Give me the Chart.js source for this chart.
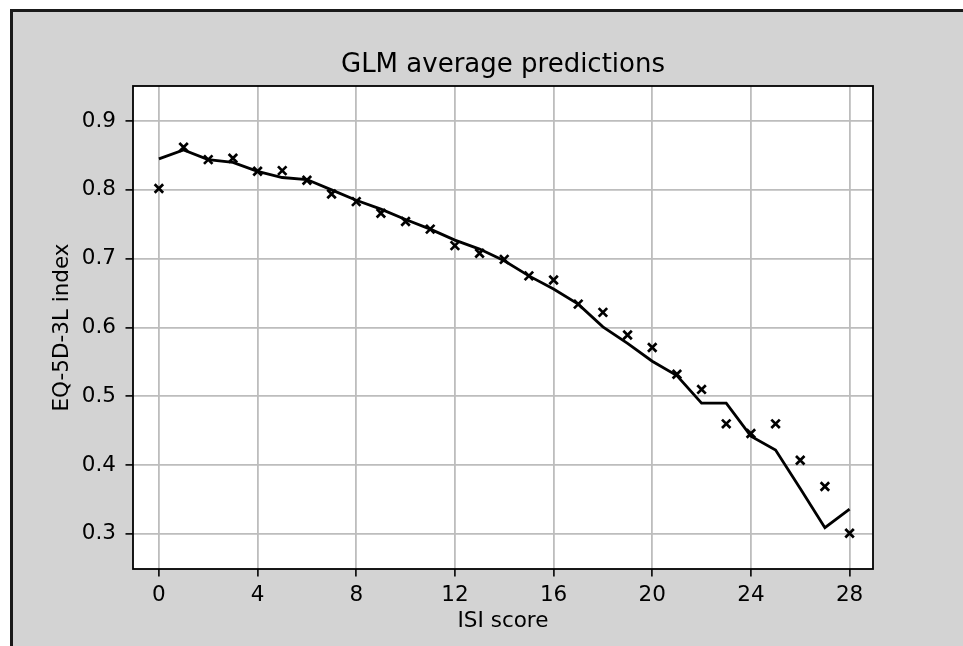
<!DOCTYPE html>
<html>
<head>
<meta charset="utf-8">
<title>GLM average predictions</title>
<script src="https://cdn.jsdelivr.net/npm/chart.js@4/dist/chart.umd.min.js"></script>
<style>
  html, body { margin: 0; padding: 0; background: #ffffff; }
  canvas { display: block; }
</style>
</head>
<body>
<canvas id="chart" width="963" height="646"></canvas>
<script>
// ISI score categories (x values)
const isiScores = [0, 1, 2, 3, 4, 5, 6, 7, 8, 9, 10, 11, 12, 13, 14, 15, 16, 17, 18, 19, 20, 21, 22, 23, 24, 25, 26, 27, 28];

// Observed mean EQ-5D-3L index per ISI score (x markers)
const observedIndex = [0.802, 0.862, 0.844, 0.846, 0.827, 0.828, 0.814, 0.794, 0.783, 0.766,
                       0.754, 0.743, 0.719, 0.708, 0.699, 0.675, 0.669, 0.634, 0.622, 0.589,
                       0.571, 0.532, 0.510, 0.460, 0.446, 0.460, 0.407, 0.369, 0.301];

// GLM average predicted EQ-5D-3L index per ISI score (line)
const predictedIndex = [0.845, 0.858, 0.844, 0.840, 0.827, 0.818, 0.815, 0.800, 0.785, 0.772,
                        0.757, 0.743, 0.727, 0.714, 0.697, 0.675, 0.656, 0.634, 0.601, 0.577,
                        0.551, 0.530, 0.490, 0.490, 0.442, 0.422, 0.366, 0.309, 0.336];

// Tick labels
const xTicks = [0, 4, 8, 12, 16, 20, 24, 28];
const yTicks = [0.3, 0.4, 0.5, 0.6, 0.7, 0.8, 0.9];

const FONT = "'DejaVu Sans', 'Liberation Sans', sans-serif";

// Gray figure panel, black frame edges, and white plotting area
const panelPlugin = {
  id: 'panel',
  afterLayout(chart) {
    // centre the title over the plotting area
    const t = chart.titleBlock;
    if (t) {
      t.left = chart.chartArea.left;
      t.right = chart.chartArea.right;
      t.width = t.right - t.left;
    }
  },
  beforeDraw(chart) {
    const ctx = chart.ctx;
    const { width, height, chartArea: a } = chart;
    ctx.save();
    ctx.fillStyle = '#ffffff';
    ctx.fillRect(0, 0, width, height);
    ctx.fillStyle = '#d3d3d3';
    ctx.fillRect(10, 9, width - 10, height - 9);
    ctx.strokeStyle = '#1a1a1a';
    ctx.lineWidth = 3;
    ctx.beginPath();
    ctx.moveTo(11.5, height);
    ctx.lineTo(11.5, 10.5);
    ctx.lineTo(width, 10.5);
    ctx.stroke();
    ctx.fillStyle = '#ffffff';
    ctx.fillRect(a.left, a.top, a.right - a.left, a.bottom - a.top);
    ctx.restore();
  },
  afterDraw(chart) {
    const ctx = chart.ctx;
    const a = chart.chartArea;
    ctx.save();
    ctx.strokeStyle = '#000000';
    ctx.lineWidth = 1.8;
    ctx.strokeRect(a.left, a.top, a.right - a.left, a.bottom - a.top);
    ctx.restore();
  }
};

const gridStyle = {
  color: '#bdbdbd',
  lineWidth: 1.8,
  drawTicks: true,
  tickLength: 7.5,
  tickColor: '#000000',
  tickWidth: 1.6
};

new Chart(document.getElementById('chart'), {
  type: 'scatter',
  data: {
    datasets: [
      {
        label: 'Observed',
        data: isiScores.map((x, i) => ({ x: x, y: observedIndex[i] })),
        pointStyle: 'crossRot',
        pointRadius: 6,
        pointHoverRadius: 6,
        pointBorderWidth: 2.7,
        borderColor: '#000000',
        backgroundColor: '#000000',
        showLine: false
      },
      {
        type: 'line',
        label: 'GLM prediction',
        data: isiScores.map((x, i) => ({ x: x, y: predictedIndex[i] })),
        borderColor: '#000000',
        borderWidth: 2.8,
        pointRadius: 0,
        tension: 0,
        fill: false
      }
    ]
  },
  options: {
    responsive: false,
    animation: false,
    devicePixelRatio: 1,
    layout: { padding: { left: 0, right: 90, top: 0, bottom: 0 } },
    plugins: {
      legend: { display: false },
      tooltip: { enabled: false },
      title: {
        display: true,
        text: 'GLM average predictions',
        color: '#000000',
        font: { family: FONT, size: 26, weight: 'normal', lineHeight: 1.2 },
        padding: { top: 49.4, bottom: 5.4 }
      }
    },
    scales: {
      x: {
        type: 'linear',
        min: -1.05,
        max: 28.95,
        afterBuildTicks(scale) { scale.ticks = xTicks.map(v => ({ value: v })); },
        afterFit(scale) { scale.height = 77; },
        border: { display: false },
        grid: gridStyle,
        ticks: {
          color: '#000000',
          padding: 6,
          maxRotation: 0,
          font: { family: FONT, size: 21.5 },
          callback: v => String(v)
        },
        title: {
          display: true,
          text: 'ISI score',
          color: '#000000',
          font: { family: FONT, size: 21.5, lineHeight: 1.2 },
          padding: { top: 0, bottom: 11.6 }
        }
      },
      y: {
        type: 'linear',
        min: 0.249,
        max: 0.951,
        afterBuildTicks(scale) { scale.ticks = yTicks.map(v => ({ value: v })); },
        afterFit(scale) { scale.width = 133; },
        border: { display: false },
        grid: gridStyle,
        ticks: {
          color: '#000000',
          padding: 9.5,
          font: { family: FONT, size: 21.5 },
          callback: v => Number(v).toFixed(1)
        },
        title: {
          display: true,
          text: 'EQ-5D-3L index',
          color: '#000000',
          font: { family: FONT, size: 21.5, lineHeight: 1.2 },
          padding: { top: 49.1, bottom: 0 }
        }
      }
    }
  },
  plugins: [panelPlugin]
});
</script>
</body>
</html>
